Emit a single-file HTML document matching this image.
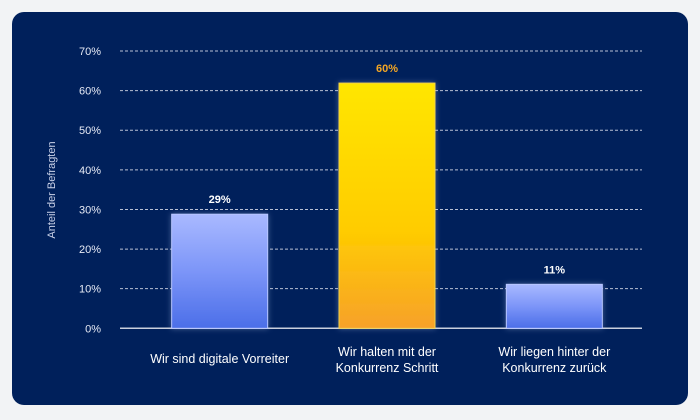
<!DOCTYPE html>
<html><head><meta charset="utf-8"><style>
html,body{margin:0;padding:0;background:#f2f3f5;}
body{width:700px;height:420px;position:relative;overflow:hidden;font-family:"Liberation Sans",sans-serif;}
#panel{position:absolute;left:12px;top:12px;width:676px;height:393px;background:#00205b;border-radius:12px;}
</style></head><body>
<div id="panel"></div>
<svg id="chart" width="700" height="420" style="position:absolute;left:0;top:0">
<defs>
<linearGradient id="gBlue" x1="0" y1="0" x2="0" y2="1"><stop offset="0" stop-color="#a9b9ff"/><stop offset="0.5" stop-color="#7c95f8"/><stop offset="1" stop-color="#4b6ee8"/></linearGradient>
<linearGradient id="gGold" x1="0" y1="0" x2="0" y2="1"><stop offset="0" stop-color="#ffe600"/><stop offset="0.6" stop-color="#ffcc00"/><stop offset="1" stop-color="#f7a12a"/></linearGradient>
<filter id="glow" x="-20%" y="-20%" width="140%" height="140%"><feGaussianBlur in="SourceAlpha" stdDeviation="4"/><feFlood flood-color="#c8d4ff" flood-opacity="0.35"/><feComposite operator="in" in2="SourceAlpha"/><feGaussianBlur stdDeviation="3"/><feMerge><feMergeNode/><feMergeNode in="SourceGraphic"/></feMerge></filter>
</defs>
<text x="55" y="190" transform="rotate(-90 55 190)" text-anchor="middle" fill="#c9d1e8" font-size="11">Anteil der Befragten</text>
</svg>
<script>
const categories = [["Wir sind digitale Vorreiter"],["Wir halten mit der","Konkurrenz Schritt"],["Wir liegen hinter der","Konkurrenz zurück"]];
const values = [28.8, 61.9, 11.1];
const valueLabels = ["29%","60%","11%"];
const yTicks = [0,10,20,30,40,50,60,70];
const fills = ["url(#gBlue)","url(#gGold)","url(#gBlue)"];
const labelColors = ["#ffffff","#f5a623","#ffffff"];
const NS="http://www.w3.org/2000/svg";
const svg=document.getElementById('chart');
const x0=120,x1=642,y0=328.3,yTop=51;
const bx0=136,bx1=638;
const y=v=>y0-(v/70)*(y0-yTop);
const band=(bx1-bx0)/categories.length;
const xc=i=>bx0+band*(i+0.5);
const bw=96;
function mk(t,a){const e=document.createElementNS(NS,t);for(const k in a)e.setAttribute(k,a[k]);svg.appendChild(e);return e;}
yTicks.forEach(t=>{
  if(t>0){const l=mk('line',{x1:x0,x2:x1,y1:y(t),y2:y(t),stroke:'#b9c0d4','stroke-width':1,'stroke-dasharray':'3,2'});
  
  }
  const tx=mk('text',{x:101,y:y(t)+4,'text-anchor':'end',fill:'#e6eaf5','font-size':11});
  tx.textContent=t+'%';
  
  
});
const ax=mk('line',{x1:x0,x2:x1,y1:y0,y2:y0,stroke:'#c9cfdd','stroke-width':1.5});


values.forEach((v,i)=>{
  const r=mk('rect',{x:xc(i)-bw/2,y:y(v),width:bw,height:y0-y(v),fill:fills[i],filter:'url(#glow)',stroke:i==1?'#f3d24a':'#b8c6ff','stroke-width':1});
  
  
  const t=mk('text',{x:xc(i),y:y(v)-11,'text-anchor':'middle',fill:labelColors[i],'font-size':11,'font-weight':'bold'});
  t.textContent=valueLabels[i];
  
  
  categories[i].forEach((ln,j)=>{
    const c=mk('text',{x:xc(i),y:363+j*16-(categories[i].length==1?0:7),'text-anchor':'middle',fill:'#ffffff','font-size':12.5});
    c.textContent=ln;
    
    
  });
});
</script>
</body></html>
